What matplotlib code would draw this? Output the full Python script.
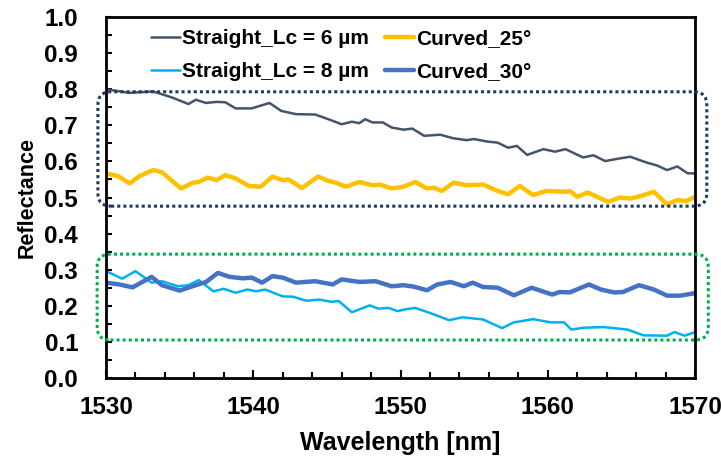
import matplotlib
matplotlib.use("Agg")
import matplotlib.pyplot as plt
from matplotlib.patches import FancyBboxPatch
from matplotlib.ticker import MultipleLocator, FormatStrFormatter

plt.rcParams['font.family'] = ['Liberation Sans', 'DejaVu Sans']
plt.rcParams['font.weight'] = 'bold'
plt.rcParams['lines.solid_joinstyle'] = 'round'
plt.rcParams['lines.solid_capstyle'] = 'round'

# Straight_Lc = 6 um
wl_s6 = [1530.0, 1531.6, 1533.2, 1534.5, 1535.6, 1536.1, 1536.8, 1537.5, 1538.1, 1538.8,
         1539.9, 1541.1, 1541.9, 1542.9, 1544.2, 1545.1, 1546.0, 1546.7, 1547.2, 1547.6,
         1548.1, 1548.8, 1549.4, 1550.2, 1550.8, 1551.6, 1552.7, 1553.6, 1554.5, 1555.0,
         1555.9, 1556.6, 1557.3, 1557.9, 1558.6, 1559.7, 1560.5, 1561.2, 1562.4, 1563.1,
         1563.9, 1564.7, 1565.6, 1566.7, 1567.4, 1568.1, 1568.8, 1569.5, 1570.0]
r_s6 = [0.800, 0.790, 0.794, 0.777, 0.759, 0.771, 0.762, 0.765, 0.764, 0.747,
        0.747, 0.762, 0.740, 0.731, 0.730, 0.717, 0.703, 0.710, 0.706, 0.717,
        0.708, 0.708, 0.694, 0.688, 0.691, 0.671, 0.674, 0.664, 0.659, 0.662,
        0.655, 0.652, 0.638, 0.643, 0.618, 0.634, 0.627, 0.634, 0.611, 0.617,
        0.601, 0.607, 0.613, 0.597, 0.589, 0.576, 0.586, 0.567, 0.567]

# Curved_25°
wl_c25 = [1530.0, 1530.8, 1531.6, 1532.3, 1533.2, 1533.8, 1535.1, 1535.9, 1536.3, 1536.9,
          1537.5, 1538.1, 1538.8, 1539.7, 1540.5, 1541.3, 1542.0, 1542.4, 1543.3, 1544.4,
          1545.1, 1545.6, 1546.3, 1547.2, 1548.1, 1548.6, 1549.4, 1550.2, 1551.0, 1551.8,
          1552.3, 1552.8, 1553.6, 1554.5, 1555.6, 1556.6, 1557.3, 1558.1, 1559.0, 1559.9,
          1561.1, 1561.5, 1562.0, 1562.7, 1564.1, 1564.9, 1565.6, 1566.3, 1567.2, 1568.1,
          1568.8, 1569.4, 1570.0]
r_c25 = [0.566, 0.560, 0.539, 0.560, 0.576, 0.570, 0.525, 0.541, 0.543, 0.555,
         0.548, 0.562, 0.553, 0.532, 0.530, 0.558, 0.548, 0.550, 0.526, 0.558,
         0.546, 0.541, 0.530, 0.543, 0.534, 0.536, 0.525, 0.530, 0.543, 0.525,
         0.527, 0.518, 0.541, 0.534, 0.536, 0.518, 0.509, 0.532, 0.507, 0.518,
         0.516, 0.518, 0.502, 0.514, 0.488, 0.500, 0.497, 0.504, 0.516, 0.481,
         0.493, 0.490, 0.502]

# Straight_Lc = 8 um
wl_s8 = [1530.0, 1531.1, 1532.0, 1533.1, 1533.8, 1534.9, 1535.6, 1536.3, 1537.3, 1538.0,
         1538.8, 1539.6, 1540.2, 1540.8, 1542.0, 1542.7, 1543.6, 1544.5, 1545.3, 1545.8,
         1546.7, 1547.9, 1548.5, 1549.2, 1549.8, 1550.3, 1551.0, 1552.0, 1553.3, 1554.2,
         1555.6, 1556.9, 1557.7, 1559.0, 1560.2, 1561.1, 1561.6, 1562.4, 1563.8, 1565.4,
         1566.5, 1568.1, 1568.6, 1569.3, 1570.0]
r_s8 = [0.296, 0.275, 0.296, 0.264, 0.268, 0.254, 0.257, 0.271, 0.240, 0.247,
        0.236, 0.245, 0.240, 0.245, 0.226, 0.225, 0.214, 0.217, 0.211, 0.213,
        0.182, 0.201, 0.192, 0.194, 0.185, 0.190, 0.194, 0.180, 0.160, 0.168,
        0.162, 0.138, 0.154, 0.163, 0.154, 0.154, 0.134, 0.139, 0.141, 0.134,
        0.118, 0.117, 0.127, 0.117, 0.127]

# Curved_30°
wl_c30 = [1530.0, 1530.9, 1531.8, 1533.1, 1533.8, 1535.0, 1536.1, 1536.8, 1537.6, 1538.4,
          1539.3, 1539.9, 1540.6, 1541.3, 1542.0, 1542.9, 1544.2, 1545.4, 1546.0, 1547.2,
          1548.3, 1549.4, 1550.2, 1550.9, 1551.8, 1552.5, 1553.4, 1554.3, 1554.9, 1555.6,
          1556.6, 1557.7, 1558.9, 1560.3, 1560.8, 1561.5, 1562.8, 1563.6, 1564.5, 1565.1,
          1566.2, 1567.2, 1568.1, 1569.0, 1570.0]
r_c30 = [0.264, 0.259, 0.251, 0.280, 0.257, 0.242, 0.257, 0.266, 0.291, 0.280,
         0.276, 0.278, 0.264, 0.282, 0.278, 0.264, 0.268, 0.259, 0.273, 0.266,
         0.268, 0.254, 0.257, 0.253, 0.243, 0.259, 0.266, 0.254, 0.264, 0.252,
         0.250, 0.229, 0.250, 0.231, 0.238, 0.237, 0.259, 0.245, 0.237, 0.238,
         0.257, 0.245, 0.228, 0.228, 0.235]

# highlight boxes (wavelength range, reflectance range)
box_hi = (1529.45, 1570.8, 0.476, 0.793)
box_lo = (1529.4, 1570.9, 0.105, 0.343)

fig = plt.figure(figsize=(7.21, 4.62), dpi=100)
ax = fig.add_axes([0.147, 0.182, 0.817, 0.781])

ax.plot(wl_s6, r_s6, color='#44546A', lw=1.8, label='Straight_Lc = 6 µm')
ax.plot(wl_s8, r_s8, color='#00B0F0', lw=1.8, label='Straight_Lc = 8 µm')
ax.plot(wl_c25, r_c25, color='#FFC000', lw=3.2, label='Curved_25°')
ax.plot(wl_c30, r_c30, color='#4472C4', lw=3.2, label='Curved_30°')

# 虛線圓角框
aspect = (0.817 * 721 / 40) / (0.781 * 462 / 1.0)
for (x0, x1, y0, y1), c in [(box_hi, '#1F3864'), (box_lo, '#00B050')]:
    p = FancyBboxPatch((x0, y0), x1 - x0, y1 - y0,
                       boxstyle='round,pad=0,rounding_size=0.9',
                       mutation_aspect=aspect, fill=False, ec=c, lw=2.2,
                       ls=(0, (1, 1)), clip_on=False, zorder=5)
    ax.add_patch(p)

ax.set_xlim(1530, 1570)
ax.set_ylim(0, 1.0)
ax.xaxis.set_major_locator(MultipleLocator(10))
ax.xaxis.set_minor_locator(MultipleLocator(2))
ax.yaxis.set_major_locator(MultipleLocator(0.1))
ax.yaxis.set_minor_locator(MultipleLocator(0.05))
ax.yaxis.set_major_formatter(FormatStrFormatter('%.1f'))

ax.tick_params(which='both', direction='in', width=1.5, labelsize=17.5)
ax.tick_params(axis='x', which='major', length=5.5, pad=13)
ax.tick_params(axis='x', which='minor', length=4)
ax.tick_params(axis='y', which='both', length=4.5, pad=20)
for sp in ax.spines.values():
    sp.set_linewidth(2)

ax.set_xlabel('Wavelength [nm]', fontsize=18, fontweight='bold', labelpad=9)
ax.set_ylabel('Reflectance', fontsize=15.5, fontweight='bold', labelpad=5)

ax.legend(loc='upper left', bbox_to_anchor=(0.076, 0.966), ncol=2, frameon=False,
          fontsize=15, handlelength=1.4, handletextpad=0.1, columnspacing=0.75,
          labelspacing=0.66, borderpad=0, borderaxespad=0)

fig.savefig('out.png', dpi=100)
